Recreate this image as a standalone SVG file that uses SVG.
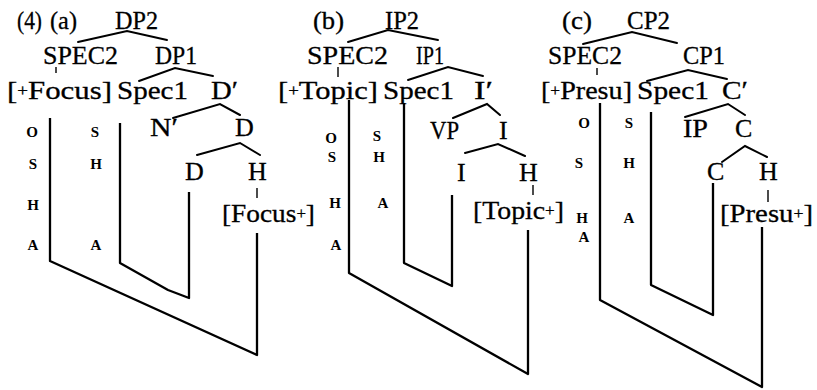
<svg xmlns="http://www.w3.org/2000/svg" width="817" height="390" viewBox="0 0 817 390">
  <style>
    .lbl { font-family: "Liberation Serif", "Times New Roman", serif; font-size: 26px; fill: #000; stroke: #000; stroke-width: 0.3; }
    .pl { font-size: 16px; }
    .ft { font-family: "Liberation Serif", "Times New Roman", serif; font-size: 15px; font-weight: bold; fill: #000; text-anchor: middle; }
    .br { stroke: #000; stroke-width: 2; fill: none; stroke-linecap: round; }
    .tk { stroke: #000; stroke-width: 1.4; fill: none; }
    .pt { stroke: #000; stroke-width: 2.3; fill: none; stroke-linejoin: round; }
  </style>
  <rect width="817" height="390" fill="#fff"/>

  <!-- example number and panel letters -->
  <g id="ex-num"><text class="lbl" x="17" y="29" textLength="25" lengthAdjust="spacingAndGlyphs">(4)</text></g>
  <g id="panel-a"><text class="lbl" x="50" y="29" textLength="27" lengthAdjust="spacingAndGlyphs">(a)</text></g>
  <g id="panel-b"><text class="lbl" x="313" y="29" textLength="31" lengthAdjust="spacingAndGlyphs">(b)</text></g>
  <g id="panel-c"><text class="lbl" x="562" y="29" textLength="30" lengthAdjust="spacingAndGlyphs">(c)</text></g>

  <!-- tree (a) -->
  <g id="a-DP2"><text class="lbl" x="115" y="29" textLength="43" lengthAdjust="spacingAndGlyphs">DP2</text></g>
  <g id="a-SPEC2"><text class="lbl" x="43" y="64" textLength="75" lengthAdjust="spacingAndGlyphs">SPEC2</text></g>
  <g id="a-DP1"><text class="lbl" x="155" y="64" textLength="42" lengthAdjust="spacingAndGlyphs">DP1</text></g>
  <g id="a-focus-feat"><text class="lbl" x="7" y="99" textLength="105" lengthAdjust="spacingAndGlyphs">[<tspan class="pl" dy="-3">+</tspan><tspan dy="3">Focus]</tspan></text></g>
  <g id="a-Spec1"><text class="lbl" x="117" y="99" textLength="71" lengthAdjust="spacingAndGlyphs">Spec1</text></g>
  <g id="a-Dbar"><text class="lbl" x="211" y="99" textLength="27" lengthAdjust="spacingAndGlyphs">D′</text></g>
  <g id="a-Nbar"><text class="lbl" x="150" y="136" textLength="28" lengthAdjust="spacingAndGlyphs">N′</text></g>
  <g id="a-D-mid"><text class="lbl" x="235" y="136">D</text></g>
  <g id="a-D-low"><text class="lbl" x="185" y="180">D</text></g>
  <g id="a-H"><text class="lbl" x="248" y="180">H</text></g>
  <g id="a-focus-head"><text class="lbl" x="222" y="222" textLength="93" lengthAdjust="spacingAndGlyphs">[Focus<tspan class="pl" dy="-3">+</tspan><tspan dy="3">]</tspan></text></g>
  <g id="a-osha">
    <text class="ft" x="32" y="137">O</text>
    <text class="ft" x="33" y="169">S</text>
    <text class="ft" x="33" y="210">H</text>
    <text class="ft" x="33" y="250">A</text>
  </g>
  <g id="a-sha">
    <text class="ft" x="95" y="137">S</text>
    <text class="ft" x="96" y="169">H</text>
    <text class="ft" x="96" y="250">A</text>
  </g>

  <!-- tree (b) -->
  <g id="b-IP2"><text class="lbl" x="385" y="29" textLength="34" lengthAdjust="spacingAndGlyphs">IP2</text></g>
  <g id="b-SPEC2"><text class="lbl" x="307" y="64" textLength="81" lengthAdjust="spacingAndGlyphs">SPEC2</text></g>
  <g id="b-IP1"><text class="lbl" x="416" y="64" textLength="28" lengthAdjust="spacingAndGlyphs">IP1</text></g>
  <g id="b-topic-feat"><text class="lbl" x="278" y="99" textLength="100" lengthAdjust="spacingAndGlyphs">[<tspan class="pl" dy="-3">+</tspan><tspan dy="3">Topic]</tspan></text></g>
  <g id="b-Spec1"><text class="lbl" x="383" y="99" textLength="71" lengthAdjust="spacingAndGlyphs">Spec1</text></g>
  <g id="b-Ibar"><text class="lbl" x="474" y="99" textLength="19" lengthAdjust="spacingAndGlyphs">I′</text></g>
  <g id="b-VP"><text class="lbl" x="430" y="139" textLength="29" lengthAdjust="spacingAndGlyphs">VP</text></g>
  <g id="b-I-mid"><text class="lbl" x="499" y="139">I</text></g>
  <g id="b-I-low"><text class="lbl" x="457" y="181">I</text></g>
  <g id="b-H"><text class="lbl" x="519" y="181">H</text></g>
  <g id="b-topic-head"><text class="lbl" x="473" y="219" textLength="91" lengthAdjust="spacingAndGlyphs">[Topic<tspan class="pl" dy="-3">+</tspan><tspan dy="3">]</tspan></text></g>
  <g id="b-osha">
    <text class="ft" x="331" y="143">O</text>
    <text class="ft" x="332" y="162">S</text>
    <text class="ft" x="335" y="208">H</text>
    <text class="ft" x="336" y="250">A</text>
  </g>
  <g id="b-sha">
    <text class="ft" x="377" y="141">S</text>
    <text class="ft" x="379" y="162">H</text>
    <text class="ft" x="383" y="208">A</text>
  </g>

  <!-- tree (c) -->
  <g id="c-CP2"><text class="lbl" x="627" y="29" textLength="43" lengthAdjust="spacingAndGlyphs">CP2</text></g>
  <g id="c-SPEC2"><text class="lbl" x="548" y="64" textLength="74" lengthAdjust="spacingAndGlyphs">SPEC2</text></g>
  <g id="c-CP1"><text class="lbl" x="683" y="64" textLength="42" lengthAdjust="spacingAndGlyphs">CP1</text></g>
  <g id="c-presu-feat"><text class="lbl" x="541" y="99" textLength="91" lengthAdjust="spacingAndGlyphs">[<tspan class="pl" dy="-3">+</tspan><tspan dy="3">Presu]</tspan></text></g>
  <g id="c-Spec1"><text class="lbl" x="637" y="99" textLength="72" lengthAdjust="spacingAndGlyphs">Spec1</text></g>
  <g id="c-Cbar"><text class="lbl" x="722" y="99" textLength="26" lengthAdjust="spacingAndGlyphs">C′</text></g>
  <g id="c-IP"><text class="lbl" x="683" y="137" textLength="25" lengthAdjust="spacingAndGlyphs">IP</text></g>
  <g id="c-C-mid"><text class="lbl" x="735" y="137">C</text></g>
  <g id="c-C-low"><text class="lbl" x="707" y="180">C</text></g>
  <g id="c-H"><text class="lbl" x="759" y="180">H</text></g>
  <g id="c-presu-head"><text class="lbl" x="720" y="222" textLength="93" lengthAdjust="spacingAndGlyphs">[Presu<tspan class="pl" dy="-3">+</tspan><tspan dy="3">]</tspan></text></g>
  <g id="c-osha">
    <text class="ft" x="584" y="128">O</text>
    <text class="ft" x="579" y="168">S</text>
    <text class="ft" x="582" y="223">H</text>
    <text class="ft" x="584" y="242">A</text>
  </g>
  <g id="c-sha">
    <text class="ft" x="629" y="128">S</text>
    <text class="ft" x="629" y="168">H</text>
    <text class="ft" x="629" y="223">A</text>
  </g>

  <!-- branches, ticks and movement paths -->
  <g id="connectors">
    <!-- (a) -->
    <path class="br" d="M78 42 L127 31 L167 40"/>
    <path class="br" d="M139 81 L175 68 L213 76"/>
    <path class="br" d="M173 118 L220 104 L240 115"/>
    <path class="br" d="M197 155 L240 143 L260 155"/>
    <path class="tk" d="M56 67 V73 M257 188 V198"/>
    <path class="pt" d="M50 118 V261 L257 355 V233"/>
    <path class="pt" d="M120 123 V263 L168 290 L189 298 V192"/>
    <!-- (b) -->
    <path class="br" d="M348 42 L388 30 L438 40"/>
    <path class="br" d="M408 80 L448 67 L483 76"/>
    <path class="br" d="M453 118 L487 104 L500 115"/>
    <path class="br" d="M465 153 L498 144 L525 156"/>
    <path class="tk" d="M338 67 V77 M533 185 V195"/>
    <path class="pt" d="M349 100 V273 L528 374 V230"/>
    <path class="pt" d="M404 103 V263 L452 286 V195"/>
    <!-- (c) -->
    <path class="br" d="M583 44 L632 32 L677 43"/>
    <path class="br" d="M647 81 L688 70 L727 79"/>
    <path class="br" d="M685 117 L728 104 L745 115"/>
    <path class="br" d="M722 162 L745 146 L767 157"/>
    <path class="tk" d="M597 68 V75 M768 190 V202"/>
    <path class="pt" d="M600 103 V300 L762 387 V227"/>
    <path class="pt" d="M651 112 V285 L713 315 V183"/>
  </g>
</svg>
